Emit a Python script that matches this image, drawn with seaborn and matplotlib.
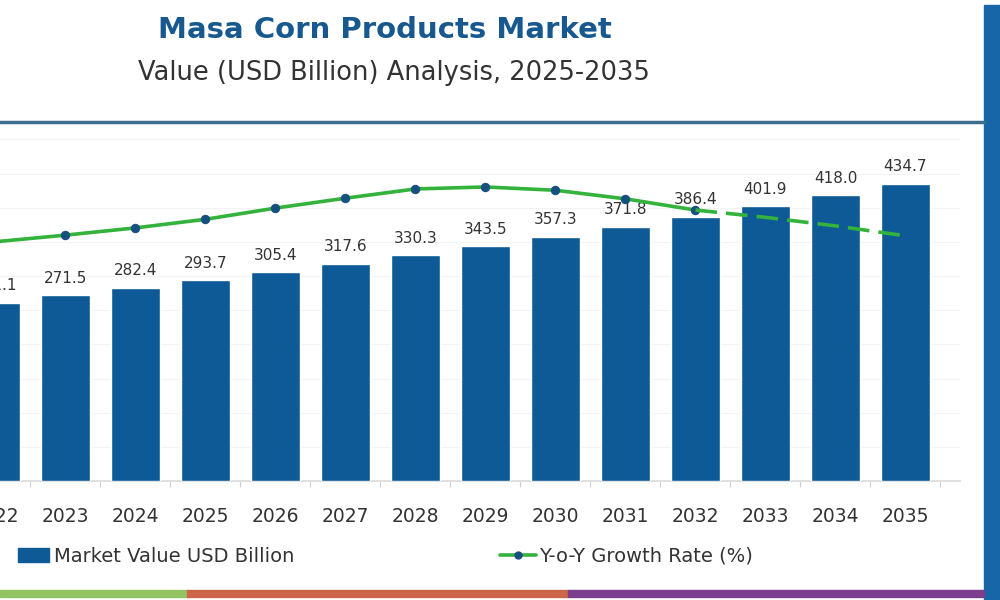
import numpy as np
import pandas as pd
import matplotlib
matplotlib.use("Agg")
import matplotlib.pyplot as plt
from matplotlib.patches import Rectangle, Patch
from matplotlib.lines import Line2D
import seaborn as sns

# ---- data ----
years = ["2022", "2023", "2024", "2025", "2026", "2027", "2028",
         "2029", "2030", "2031", "2032", "2033", "2034", "2035"]
market_value = [261.1, 271.5, 282.4, 293.7, 305.4, 317.6, 330.3,
                343.5, 357.3, 371.8, 386.4, 401.9, 418.0, 434.7]
yoy_growth = [3.80, 3.90, 4.01, 4.14, 4.31, 4.46, 4.60,
              4.63, 4.58, 4.45, 4.28, 4.17, 4.04, 3.89]
last_actual_idx = 10  # solid line up to 2032, dashed afterwards

title = "Masa Corn Products Market"
subtitle = "Value (USD Billion) Analysis, 2025-2035"
legend_bar = "Market Value USD Billion"
legend_line = "Y-o-Y Growth Rate (%)"

BAR = "#0d5a96"
GREEN = "#33b23c"
MARK = "#17507e"
TXT = "#333333"

sns.set_theme(style="white")
plt.rcParams["font.family"] = ["DejaVu Sans"]

fig = plt.figure(figsize=(10, 6), dpi=100)

# axes: px -40 .. 960 horizontally, 130 .. 481 vertically
ax = fig.add_axes([-0.04, (600 - 481) / 600, 1.0, (481 - 130) / 600])

df = pd.DataFrame({"year": years, "value": market_value})
sns.barplot(data=df, x="year", y="value", color=BAR, width=0.7,
            saturation=1, ax=ax, zorder=3)
ax.set_xlim(-0.507, 13.779)
ax.set_ylim(0, 513.7)
ax.set_yticks(np.arange(50, 501, 50))
ax.yaxis.grid(True, color="#f3f3f3", lw=0.8, zorder=0)
ax.set_axisbelow(True)
ax.tick_params(axis="y", left=False, labelleft=False)
ax.set_xlabel("")
ax.set_ylabel("")
for s in ["top", "left", "right"]:
    ax.spines[s].set_visible(False)
ax.spines["bottom"].set_color("#dcdcdc")
ax.tick_params(axis="x", which="major", length=0, pad=19,
               labelsize=13.5, labelcolor=TXT)
ax.set_xticks(np.arange(len(years)) + 0.5, minor=True)
ax.tick_params(axis="x", which="minor", length=4, color="#cfcfcf", width=0.8,
               bottom=True)

for i, v in enumerate(market_value):
    ax.annotate(f"{v:.1f}", (i, v), xytext=(0, 7), textcoords="offset points",
                ha="center", va="bottom", fontsize=11, color=TXT, zorder=5)

ax2 = ax.twinx()
ax2.set_ylim(0.175, 5.493)
xs = np.arange(len(years))
sns.lineplot(x=xs[:last_actual_idx + 1], y=yoy_growth[:last_actual_idx + 1],
             ax=ax2, color=GREEN, lw=2.6, marker="o", markersize=6,
             markerfacecolor=MARK, markeredgecolor=MARK, zorder=6)
sns.lineplot(x=xs[last_actual_idx:], y=yoy_growth[last_actual_idx:],
             ax=ax2, color=GREEN, lw=2.6, zorder=6)
ax2.lines[-1].set_dashes((6, 2.5))
ax2.set_xlim(-0.507, 13.779)
ax2.axis("off")

# titles
fig.text(0.385, 1 - 30 / 600, title, ha="center", va="center",
         fontsize=21, fontweight="bold", color="#17598f")
fig.text(0.394, 1 - 73 / 600, subtitle, ha="center", va="center",
         fontsize=18.5, color=TXT)

# decorative frame elements
fig.add_artist(Line2D([0, 0.984], [1 - 122 / 600] * 2, color="#3d6e8e",
                      lw=2.5, transform=fig.transFigure))
fig.add_artist(Rectangle((0.984, 0), 0.016, 0.992, color="#1766a8",
                         transform=fig.transFigure))
stripes = [(0.0, 0.187, "#93c464"), (0.187, 0.568, "#cc6549"),
           (0.568, 0.984, "#7d3f8d")]
for x0, x1, c in stripes:
    fig.add_artist(Rectangle((x0, 0.005), x1 - x0, 0.011, color=c,
                             transform=fig.transFigure))

# legends
h1 = Patch(facecolor=BAR, edgecolor=BAR)
fig.legend([h1], [legend_bar], loc="center left",
           bbox_to_anchor=(0.018, 1 - 556 / 600), frameon=False,
           fontsize=14, handlelength=1.6, handleheight=0.75,
           handletextpad=0.25, borderpad=0, borderaxespad=0,
           labelcolor=TXT)
h2 = Line2D([], [], color=GREEN, lw=2.6, marker="o", markersize=5,
            markerfacecolor=MARK, markeredgecolor=MARK)
fig.legend([h2], [legend_line], loc="center left",
           bbox_to_anchor=(0.5, 1 - 556 / 600), frameon=False,
           fontsize=14, handlelength=1.85, handletextpad=0.15,
           borderpad=0, borderaxespad=0, labelcolor=TXT)

fig.savefig("out.png", dpi=100)
